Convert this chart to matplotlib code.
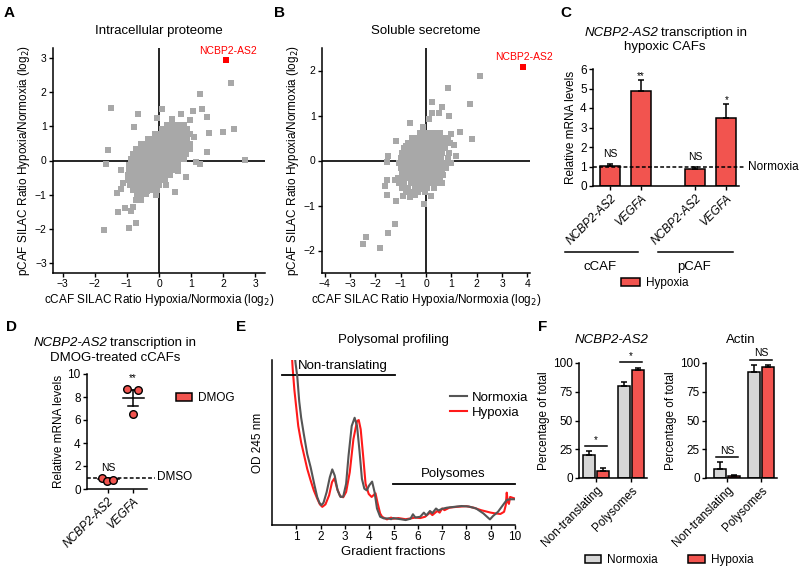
import matplotlib
matplotlib.use('Agg')
import matplotlib.pyplot as plt
from matplotlib.patches import Patch
from matplotlib.lines import Line2D

plt.rcParams['font.family'] = ['Liberation Sans', 'DejaVu Sans']
plt.rcParams['axes.linewidth'] = 1.1
plt.rcParams['xtick.major.width'] = 1.0
plt.rcParams['ytick.major.width'] = 1.0
plt.rcParams['xtick.major.size'] = 3
plt.rcParams['ytick.major.size'] = 3

W, H = 800, 572
RED = '#f2544f'
GREY_BAR = '#d6d6d6'
GREY_PT = '#a8a8a8'
TICK_FS = 7.5
LABEL_FS = 8.5
TITLE_FS = 9.5
LETTER_FS = 11

# ---- A: intracellular proteome (dense core rows: y, list of x) ----
a_core_rows = [
    (1.05, [0.25, 0.45, 0.62, 0.78]),
    (0.92, [0.1, 0.28, 0.42, 0.58, 0.74, 0.88]),
    (0.78, [-0.12, 0.03, 0.18, 0.33, 0.48, 0.63, 0.8, 0.95]),
    (0.63, [-0.35, -0.2, -0.05, 0.1, 0.25, 0.4, 0.55, 0.7, 0.88]),
    (0.48, [-0.55, -0.4, -0.25, -0.1, 0.05, 0.2, 0.35, 0.5, 0.65, 0.8, 0.97]),
    (0.33, [-0.72, -0.57, -0.42, -0.27, -0.12, 0.03, 0.18, 0.33, 0.48, 0.63, 0.8, 0.98]),
    (0.18, [-0.82, -0.67, -0.52, -0.37, -0.22, -0.07, 0.08, 0.23, 0.38, 0.53, 0.68, 0.85]),
    (0.03, [-0.88, -0.73, -0.58, -0.43, -0.28, -0.13, 0.02, 0.17, 0.32, 0.47, 0.62, 0.78]),
    (-0.12, [-0.92, -0.77, -0.62, -0.47, -0.32, -0.17, -0.02, 0.13, 0.28, 0.43, 0.58]),
    (-0.27, [-0.93, -0.78, -0.63, -0.48, -0.33, -0.18, -0.03, 0.12, 0.27, 0.42]),
    (-0.42, [-0.97, -0.82, -0.67, -0.52, -0.37, -0.22, -0.07, 0.08, 0.23, 0.35]),
    (-0.57, [-0.97, -0.82, -0.67, -0.52, -0.37, -0.22, -0.07, 0.08, 0.2]),
    (-0.72, [-0.9, -0.75, -0.6, -0.45, -0.3, -0.15, 0.0]),
    (-0.87, [-0.8, -0.65, -0.5, -0.35, -0.2, -0.05]),
    (-0.98, [-0.7, -0.55, -0.4]),
]
a_out_x = [-1.5, -1.6, -1.65, -1.7, -0.93, -0.72, -1.29, -1.05, -0.88, -0.8, -1.32,
           -1.19, -1.11, -1.19, -0.64, -0.77, -0.05, 0.1, 0.41, 0.7, 1.05, 1.34, 1.27,
           1.5, 1.55, 1.98, 2.33, 2.25, 2.69, 1.48, 1.14, 1.29, 0.83, 0.5, 0.21, -0.1,
           -0.36, -0.57, -0.72, 0.95, 1.1, 0.6]
a_out_y = [1.53, 0.32, -0.1, -2.04, -1.97, -1.83, -1.5, -1.4, -1.47, -1.36, -0.95,
           -0.83, -0.66, -0.27, 1.36, 0.97, 1.26, 1.5, 1.21, 1.36, 1.46, 1.5, 1.94,
           1.28, 0.8, 0.83, 0.92, 2.26, 0.02, 0.26, -0.03, -0.1, -0.47, -0.92, -0.71,
           -1.02, -0.89, -1.17, -1.17, 1.2, 0.7, -0.3]
a_hit = (2.1, 2.96)

# ---- B: soluble secretome ----
b_core_rows = [
    (0.62, [-0.25, -0.05, 0.15, 0.35, 0.55]),
    (0.5, [-0.55, -0.35, -0.15, 0.05, 0.25, 0.45, 0.65, 0.85]),
    (0.39, [-0.7, -0.5, -0.3, -0.1, 0.1, 0.3, 0.5, 0.7, 0.95]),
    (0.28, [-0.85, -0.65, -0.45, -0.25, -0.05, 0.15, 0.35, 0.55, 0.75]),
    (0.17, [-0.95, -0.75, -0.55, -0.35, -0.15, 0.05, 0.25, 0.45, 0.65, 0.9]),
    (0.06, [-1.0, -0.8, -0.6, -0.4, -0.2, 0.0, 0.2, 0.4, 0.6, 0.85]),
    (-0.05, [-1.05, -0.85, -0.65, -0.45, -0.25, -0.05, 0.15, 0.35, 0.55, 0.78, 1.0]),
    (-0.16, [-1.0, -0.8, -0.6, -0.4, -0.2, 0.0, 0.2, 0.4, 0.6, 0.8]),
    (-0.27, [-0.95, -0.75, -0.55, -0.35, -0.15, 0.05, 0.25, 0.45, 0.65]),
    (-0.38, [-1.1, -0.9, -0.7, -0.5, -0.3, -0.1, 0.1, 0.3, 0.55]),
    (-0.49, [-1.05, -0.85, -0.6, -0.4, -0.2, 0.0, 0.2, 0.4, 0.65]),
    (-0.6, [-0.95, -0.7, -0.45, -0.2, 0.05, 0.3]),
    (-0.71, [-0.8, -0.55, -0.3, -0.05]),
]
b_out_x = [2.13, 0.87, 1.72, 1.82, 0.24, 0.63, 0.24, 0.51, 0.91, 0.12, -0.12, -0.62,
           1.33, 1.0, -1.17, -0.78, -1.5, -1.54, -1.53, -1.63, -1.54, -1.24, -1.2,
           -0.91, -0.64, -0.45, -0.25, 0.18, -0.09, -1.24, -1.5, -2.36, -2.49, -1.83,
           0.67, 1.2, 1.1]
b_out_y = [1.87, 1.61, 1.26, 0.48, 1.31, 1.19, 1.06, 1.06, 0.99, 0.93, 0.74, 0.83,
           0.63, 0.59, 0.44, 0.32, 0.11, -0.04, -0.44, -0.56, -0.76, -0.44, -0.91,
           -0.78, -0.81, -0.76, -0.63, -0.78, -0.96, -1.42, -1.61, -1.7, -1.85, -1.95,
           -0.33, 0.1, 0.35]
b_hit = (3.83, 2.07)

# ---- C: qPCR in hypoxic CAFs ----
c_genes = ['NCBP2-AS2', 'VEGFA', 'NCBP2-AS2', 'VEGFA']
c_values = [1.05, 4.85, 0.85, 3.5]
c_err = [0.06, 0.6, 0.15, 0.7]
c_sig = ['NS', '**', 'NS', '*']
c_groups = ['cCAF', 'pCAF']

# ---- D: DMOG-treated cCAFs ----
d_genes = ['NCBP2-AS2', 'VEGFA']
d_points = [[1.0, 0.7, 0.8], [8.7, 8.6, 6.5]]
d_jitter = [[-0.24, -0.04, 0.2], [-0.23, 0.19, 0.0]]
d_mean = [0.83, 7.95]
d_sem = [0.09, 0.7]
d_sig = ['NS', '**']

# ---- E: polysome profile ----
e_norm_x = [0.92, 0.97, 1.04, 1.12, 1.2, 1.31, 1.45, 1.59, 1.75, 1.86, 1.95, 2.03, 2.12,
            2.25, 2.38, 2.48, 2.58, 2.7, 2.82, 2.93, 3.05, 3.15, 3.28, 3.4, 3.5, 3.6,
            3.7, 3.8, 3.9, 4.0, 4.12, 4.22, 4.32, 4.45, 4.6, 4.8, 4.9, 5.0, 5.15, 5.3,
            5.5, 5.7, 5.8, 5.9, 6.1, 6.25, 6.35, 6.5, 6.6, 6.75, 6.85, 7.0, 7.2, 7.5,
            7.8, 8.1, 8.4, 8.7, 8.9, 8.97, 9.1, 9.3, 9.5, 9.66, 9.8, 10.0]
e_norm_y = [105, 98, 90, 75, 65, 55, 43, 35, 24, 17, 13.5, 12, 13.5, 20, 29, 33.7, 30,
            21, 17, 17.2, 25, 42, 60, 65, 60, 45, 28, 22, 21, 24, 26.3, 20, 10, 5, 4, 4,
            3.5, 4.2, 3.8, 3.5, 3, 3.8, 6.5, 4.5, 5, 7.5, 5.8, 8.5, 7.2, 10, 8.8, 9.8,
            10.5, 11, 11.5, 11.2, 10, 7, 4.3, 3.4, 5.5, 8, 12, 15.2, 15.6, 15.6]
e_hyp_x = [0.81, 0.85, 0.92, 1.0, 1.08, 1.2, 1.31, 1.45, 1.59, 1.72, 1.86, 1.97, 2.07,
           2.2, 2.35, 2.47, 2.57, 2.68, 2.8, 2.93, 3.05, 3.2, 3.35, 3.5, 3.57, 3.65,
           3.75, 3.85, 3.98, 4.1, 4.26, 4.35, 4.45, 4.53, 4.73, 4.9, 5.0, 5.2, 5.5,
           5.9, 6.1, 6.3, 6.5, 6.6, 6.8, 6.9, 7.0, 7.1, 7.3, 7.6, 8.0, 8.3, 8.6, 9.0,
           9.2, 9.4, 9.55, 9.62, 9.66, 9.7, 9.75, 9.8, 9.9, 10.0]
e_hyp_y = [105, 95, 82, 71, 60, 50, 43, 34, 27, 21, 16, 12.5, 11, 12.5, 18, 26, 28.3,
           22, 17.5, 16.8, 20, 32, 52, 63, 63.6, 58, 42, 25, 18.8, 17, 19.2, 13, 7, 5,
           3.4, 4.5, 3.8, 4.2, 3.5, 4.5, 4.2, 5, 7.5, 6, 8.5, 7.5, 10, 9, 10.5, 11,
           11.4, 10.5, 9, 7.5, 7, 6.7, 8, 12, 19.6, 14, 12.8, 17, 16.5, 16]

# ---- F: distribution along gradient ----
f_fractions = ['Non-translating', 'Polysomes']
f_ncbp_norm = [20, 80]
f_ncbp_norm_err = [3.5, 3.5]
f_ncbp_hyp = [6, 93.5]
f_ncbp_hyp_err = [2.5, 2]
f_ncbp_sig = ['*', '*']
f_actin_norm = [8, 92]
f_actin_norm_err = [6, 6]
f_actin_hyp = [2, 96.5]
f_actin_hyp_err = [1, 2]
f_actin_sig = ['NS', 'NS']


def px_axes(fig, left, top, right, bottom):
    return fig.add_axes([left / W, 1 - bottom / H, (right - left) / W, (bottom - top) / H])


def fx(x):
    return x / W


def fy(y):
    return 1 - y / H


def clean(ax, fs=TICK_FS):
    ax.spines['top'].set_visible(False)
    ax.spines['right'].set_visible(False)
    ax.tick_params(labelsize=fs, pad=1.5)


def letter(fig, x, y, s):
    fig.text(fx(x), fy(y), s, fontsize=LETTER_FS, fontweight='bold', ha='left', va='center')


def expand(rows):
    xs, ys = [], []
    for y, row in rows:
        xs += row
        ys += [y] * len(row)
    return xs, ys


def silac(ax, rows, ox, oy, hit, lim_x, lim_y, ticks_x, ticks_y, title):
    cx, cy = expand(rows)
    ax.axhline(0, color='black', lw=1.2, zorder=1)
    ax.axvline(0, color='black', lw=1.2, zorder=1)
    ax.scatter(cx + ox, cy + oy, marker='s', s=15, color=GREY_PT, linewidths=0, zorder=2)
    ax.scatter([hit[0]], [hit[1]], marker='s', s=14, color='red', linewidths=0, zorder=3)
    ax.text(hit[0] + 0.05, hit[1] + 0.12, 'NCBP2-AS2', color='red', fontsize=7.5,
            ha='center', va='bottom')
    ax.set_xlim(*lim_x)
    ax.set_ylim(*lim_y)
    ax.set_xticks(ticks_x)
    ax.set_yticks(ticks_y)
    clean(ax)
    ax.set_title(title, fontsize=TITLE_FS, pad=10)
    ax.set_xlabel('cCAF SILAC Ratio Hypoxia/Normoxia (log$_2$)', fontsize=LABEL_FS, labelpad=2)
    ax.set_ylabel('pCAF SILAC Ratio Hypoxia/Normoxia (log$_2$)', fontsize=LABEL_FS, labelpad=2)


def polysome_bars(fig, ax, norm, norm_err, hyp, hyp_err, sig, sig_y, title, italic, title_x):
    pos = [0, 1]
    off = 0.205
    bw = 0.34
    ax.bar([p - off for p in pos], norm, width=bw, color=GREY_BAR, edgecolor='black', lw=1.1)
    ax.bar([p + off for p in pos], hyp, width=bw, color=RED, edgecolor='black', lw=1.1)
    ax.errorbar([p - off for p in pos], norm, yerr=[[0, 0], norm_err], fmt='none',
                ecolor='black', elinewidth=1.1, capsize=2.5, capthick=1.1)
    ax.errorbar([p + off for p in pos], hyp, yerr=[[0, 0], hyp_err], fmt='none',
                ecolor='black', elinewidth=1.1, capsize=2.5, capthick=1.1)
    for p, s, yy in zip(pos, sig, sig_y):
        ax.plot([p - off - 0.12, p + off + 0.12], [yy, yy], color='black', lw=1.1, clip_on=False)
        if s == '*':
            ax.text(p, yy + 1, s, ha='center', va='bottom', fontsize=7)
        else:
            ax.text(p, yy + 1.5, s, ha='center', va='bottom', fontsize=7.5)
    ax.set_ylim(0, 100)
    ax.set_yticks([0, 25, 50, 75, 100])
    ax.set_xticks(pos)
    ax.set_xticklabels(f_fractions, rotation=45, ha='right', rotation_mode='anchor')
    clean(ax, LABEL_FS)
    ax.set_ylabel('Percentage of total', fontsize=LABEL_FS, labelpad=2)
    fig.text(fx(title_x), fy(340), title, fontsize=TITLE_FS, ha='center', va='center',
             fontstyle='italic' if italic else 'normal')


def main():
    fig = plt.figure(figsize=(8, 5.72), dpi=100)

    # A
    ax = px_axes(fig, 53, 48, 265, 273)
    silac(ax, a_core_rows, a_out_x, a_out_y, a_hit, (-3.3, 3.3), (-3.3, 3.3),
          range(-3, 4), range(-3, 4), 'Intracellular proteome')
    letter(fig, 4, 13, 'A')

    # B
    ax = px_axes(fig, 322, 48, 530, 273)
    silac(ax, b_core_rows, b_out_x, b_out_y, b_hit, (-4.1, 4.1), (-2.5, 2.5),
          range(-4, 5), range(-2, 3), 'Soluble secretome')
    letter(fig, 274, 13, 'B')

    # C
    ax = px_axes(fig, 593, 69, 739, 186)
    c_pos = [0, 1, 2.75, 3.75]
    ax.bar(c_pos, c_values, width=0.65, color=RED, edgecolor='black', lw=1.1, zorder=2)
    ax.errorbar(c_pos, c_values, yerr=[[0] * 4, c_err], fmt='none', ecolor='black',
                elinewidth=1.1, capsize=2.5, capthick=1.1, zorder=2)
    for p, v, e, s in zip(c_pos, c_values, c_err, c_sig):
        if s == 'NS':
            ax.text(p, v + e + 0.25, s, ha='center', va='bottom', fontsize=7.5)
        else:
            ax.text(p, v + e - 0.05, s, ha='center', va='bottom', fontsize=7)
    ax.plot([-0.55, 4.35], [1, 1], ls=(0, (2.5, 1.5)), color='black', lw=1.1,
            clip_on=False, zorder=3)
    ax.text(4.45, 1, 'Normoxia', fontsize=LABEL_FS, ha='left', va='center')
    ax.set_xlim(-0.55, 4.16)
    ax.set_ylim(0, 6)
    ax.set_yticks(range(0, 7))
    ax.set_xticks(c_pos)
    ax.set_xticklabels(c_genes, rotation=45, ha='right', rotation_mode='anchor',
                       fontstyle='italic')
    clean(ax, LABEL_FS)
    ax.set_ylabel('Relative mRNA levels', fontsize=LABEL_FS, labelpad=2)
    fig.text(fx(658), fy(33), 'NCBP2-AS2', fontsize=TITLE_FS, fontstyle='italic',
             ha='right', va='center')
    fig.text(fx(661), fy(33), 'transcription in', fontsize=TITLE_FS, ha='left', va='center')
    fig.text(fx(665), fy(47), 'hypoxic CAFs', fontsize=TITLE_FS, ha='center', va='center')
    for (x0, x1), g in zip([(565, 638), (658, 733)], c_groups):
        fig.add_artist(Line2D([fx(x0), fx(x1)], [fy(252), fy(252)], color='black', lw=1.1))
        fig.text(fx((x0 + x1) / 2 - 1), fy(267), g, fontsize=TITLE_FS, ha='center', va='center')
    fig.legend(handles=[Patch(facecolor=RED, edgecolor='black', lw=1.1, label='Hypoxia')],
               loc='center', bbox_to_anchor=(fx(655), fy(283)), frameon=False,
               fontsize=LABEL_FS, handlelength=1.6, handleheight=0.7, handletextpad=0.5)
    letter(fig, 560, 13, 'C')

    # D
    ax = px_axes(fig, 87, 374, 147, 489)
    for i in range(2):
        xs = [i + j for j in d_jitter[i]]
        ax.plot([i - 0.42, i + 0.42], [d_mean[i], d_mean[i]], color='black', lw=1.1, zorder=2)
        ax.plot([i, i], [d_mean[i] - d_sem[i], d_mean[i] + d_sem[i]], color='black', lw=1.1, zorder=2)
        for yy in (d_mean[i] - d_sem[i], d_mean[i] + d_sem[i]):
            ax.plot([i - 0.2, i + 0.2], [yy, yy], color='black', lw=1.1, zorder=2)
        ax.scatter(xs, d_points[i], s=30, color=RED, edgecolors='black', linewidths=1.0,
                   zorder=3, clip_on=False)
    ax.text(0, 1.35, d_sig[0], ha='center', va='bottom', fontsize=7.5)
    ax.text(1, 9.2, d_sig[1], ha='center', va='bottom', fontsize=7)
    ax.plot([-0.84, 1.88], [1, 1], ls=(0, (2.5, 1.5)), color='black', lw=1.1,
            clip_on=False, zorder=1)
    ax.text(1.98, 1, 'DMSO', fontsize=LABEL_FS, ha='left', va='center')
    ax.set_xlim(-0.84, 1.56)
    ax.set_ylim(0, 10)
    ax.set_yticks(range(0, 11, 2))
    ax.set_xticks([0, 1])
    ax.set_xticklabels(d_genes, rotation=45, ha='right', rotation_mode='anchor',
                       fontstyle='italic')
    clean(ax, LABEL_FS)
    ax.set_ylabel('Relative mRNA levels', fontsize=LABEL_FS, labelpad=2)
    fig.text(fx(107), fy(343), 'NCBP2-AS2', fontsize=TITLE_FS, fontstyle='italic',
             ha='right', va='center')
    fig.text(fx(110), fy(343), 'transcription in', fontsize=TITLE_FS, ha='left', va='center')
    fig.text(fx(115), fy(358), 'DMOG-treated cCAFs', fontsize=TITLE_FS, ha='center', va='center')
    fig.legend(handles=[Patch(facecolor=RED, edgecolor='black', lw=1.1, label='DMOG')],
               loc='center left', bbox_to_anchor=(fx(165), fy(398)), frameon=False,
               fontsize=LABEL_FS, handlelength=1.4, handleheight=0.7, handletextpad=0.5)
    letter(fig, 6, 327, 'D')

    # E
    ax = px_axes(fig, 272, 360, 515, 525)
    ax.plot(e_norm_x, e_norm_y, color='#555555', lw=1.5, label='Normoxia', zorder=3)
    ax.plot(e_hyp_x, e_hyp_y, color='#ff1a1a', lw=1.5, label='Hypoxia', zorder=2)
    ax.plot([0.42, 5.07], [91, 91], color='black', lw=1.3, clip_on=False)
    ax.text(1.05, 93, 'Non-translating', fontsize=TITLE_FS, ha='left', va='bottom')
    ax.plot([4.99, 10.0], [25, 25], color='black', lw=1.3, clip_on=False)
    ax.text(7.45, 27, 'Polysomes', fontsize=TITLE_FS, ha='center', va='bottom')
    ax.set_xlim(0.0, 10.0)
    ax.set_ylim(0, 100)
    ax.set_xticks(range(1, 11))
    ax.set_yticks([])
    clean(ax, LABEL_FS)
    ax.set_xlabel('Gradient fractions', fontsize=TITLE_FS, labelpad=2)
    ax.set_ylabel('OD 245 nm', fontsize=LABEL_FS, labelpad=6)
    ax.set_title('Polysomal profiling', fontsize=TITLE_FS, pad=12)
    ax.legend(loc='center left', bbox_to_anchor=(fx(438), fy(405)),
              bbox_transform=fig.transFigure, frameon=False, fontsize=TITLE_FS,
              handlelength=1.3, handletextpad=0.4, labelspacing=0.2)
    letter(fig, 236, 327, 'E')

    # F
    ax = px_axes(fig, 579, 363, 647, 478)
    ax.set_xlim(-0.49, 1.46)
    polysome_bars(fig, ax, f_ncbp_norm, f_ncbp_norm_err, f_ncbp_hyp, f_ncbp_hyp_err,
                  f_ncbp_sig, [28, 101], 'NCBP2-AS2', True, 612)
    ax = px_axes(fig, 706, 363, 777, 478)
    ax.set_xlim(-0.62, 1.47)
    polysome_bars(fig, ax, f_actin_norm, f_actin_norm_err, f_actin_hyp, f_actin_hyp_err,
                  f_actin_sig, [18, 103], 'Actin', False, 741)
    fig.legend(handles=[Patch(facecolor=GREY_BAR, edgecolor='black', lw=1.1, label='Normoxia'),
                        Patch(facecolor=RED, edgecolor='black', lw=1.1, label='Hypoxia')],
               loc='center', bbox_to_anchor=(fx(669), fy(560)), frameon=False, ncol=2,
               fontsize=LABEL_FS, handlelength=1.4, handleheight=0.7, handletextpad=0.5,
               columnspacing=2.6)
    letter(fig, 538, 327, 'F')

    fig.savefig('out.png', dpi=100)


if __name__ == '__main__':
    main()
